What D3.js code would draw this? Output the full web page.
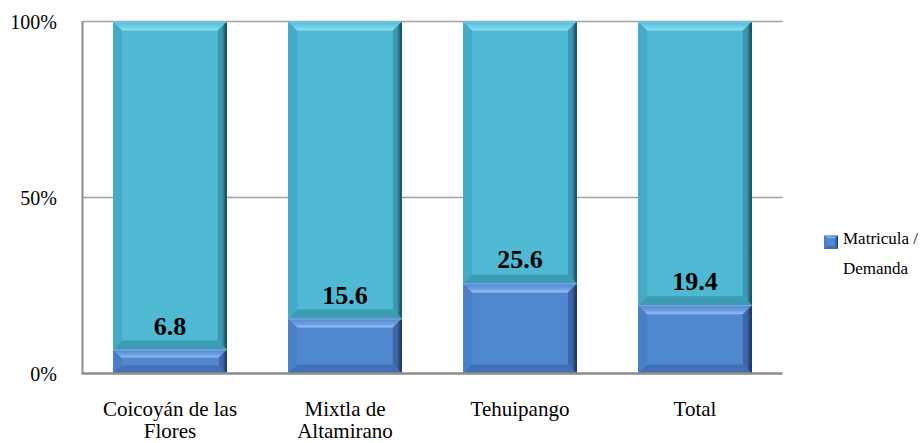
<!DOCTYPE html>
<html>
<head>
<meta charset="utf-8">
<script src="https://cdn.jsdelivr.net/npm/d3@7/dist/d3.min.js"></script>
<style>
  html, body { margin: 0; padding: 0; background: #fff; }
  svg { display: block; }
  svg text { font-family: 'Liberation Serif', 'Times New Roman', Times, 'DejaVu Serif', serif; }
</style>
</head>
<body>
<svg id="chart" width="923" height="443"></svg>
<script>
// Share of demand covered by enrolment, by municipality
const categories = [["Coicoyán de las", "Flores"], ["Mixtla de", "Altamirano"], ["Tehuipango"], ["Total"]];
const matricula = [6.8, 15.6, 25.6, 19.4];
const yTicks = [0, 50, 100];
const legendLines = ["Matricula /", "Demanda"];

const FONT = "'Liberation Serif', 'Times New Roman', Times, serif";
const svg = d3.select("#chart");
const plot = { left: 82.5, right: 782.5, top: 21.5, bottom: 373.5 };

const x = d3.scaleBand()
  .domain(categories.map((c, i) => i))
  .range([plot.left, plot.right])
  .paddingInner(0.35)
  .paddingOuter(0.175);

const y = d3.scaleLinear().domain([0, 100]).range([plot.bottom, plot.top]);

// palettes for the bevelled segments
const cyan = { face: "#4fb9d3", top: "#72cfe6", shine: "#92e2f4", left: "#45aac6", right: "#3b98b2", edge: "#163f4d", bottom: "#3e9bb4" };
const blue = { face: "#5088d0", top: "#6c9de0", shine: "#9cc0f2", left: "#497fc6", right: "#3c68aa", edge: "#182c50", bottom: "#4171b4" };

const defs = svg.append("defs");
function sideGradient(id, p) {
  const g = defs.append("linearGradient").attr("id", id).attr("x1", 0).attr("x2", 1).attr("y1", 0).attr("y2", 0);
  g.append("stop").attr("offset", "0%").attr("stop-color", p.right);
  g.append("stop").attr("offset", "45%").attr("stop-color", p.right);
  g.append("stop").attr("offset", "100%").attr("stop-color", p.edge);
}
function topGradient(id, p) {
  const g = defs.append("linearGradient").attr("id", id).attr("x1", 0).attr("x2", 0).attr("y1", 0).attr("y2", 1);
  g.append("stop").attr("offset", "0%").attr("stop-color", p.face);
  g.append("stop").attr("offset", "60%").attr("stop-color", p.top);
  g.append("stop").attr("offset", "100%").attr("stop-color", p.shine);
}
sideGradient("sideCyan", cyan); sideGradient("sideBlue", blue);
topGradient("topCyan", cyan); topGradient("topBlue", blue);

// gridlines
svg.append("g").selectAll("line")
  .data(yTicks.filter(t => t > 0))
  .join("line")
  .attr("x1", plot.left).attr("x2", plot.right)
  .attr("y1", d => y(d)).attr("y2", d => y(d))
  .attr("stroke", "#a0a0a0").attr("stroke-width", 1.5);

function bevelRect(g, bx, by, w, h, p, key, b) {
  const pts = a => a.map(q => q.join(",")).join(" ");
  g.append("rect").attr("x", bx).attr("y", by).attr("width", w).attr("height", h).attr("fill", p.face);
  g.append("polygon").attr("points", pts([[bx, by + h], [bx + w, by + h], [bx + w - b, by + h - b], [bx + b, by + h - b]])).attr("fill", p.bottom);
  g.append("polygon").attr("points", pts([[bx, by], [bx + b, by + b], [bx + b, by + h - b], [bx, by + h]])).attr("fill", p.left);
  g.append("polygon").attr("points", pts([[bx, by], [bx + w, by], [bx + w - b, by + b], [bx + b, by + b]])).attr("fill", "url(#top" + key + ")");
  g.append("polygon").attr("points", pts([[bx + w, by], [bx + w - b, by + b], [bx + w - b, by + h - b], [bx + w, by + h]])).attr("fill", "url(#side" + key + ")");
  // thin light rim along the top edge
  g.append("line").attr("x1", bx).attr("x2", bx + w).attr("y1", by + 0.5).attr("y2", by + 0.5)
    .attr("stroke", p.shine).attr("stroke-opacity", 0.6).attr("stroke-width", 1);
}

const bars = svg.append("g");
matricula.forEach((v, i) => {
  const bx = x(i), w = x.bandwidth();
  const g = bars.append("g");
  // remainder up to 100%
  bevelRect(g, bx, y(100), w, y(v) - y(100), cyan, "Cyan", 9);
  // enrolment share
  const hb = y(0) - y(v);
  bevelRect(g, bx, y(v), w, hb, blue, "Blue", Math.min(9, hb / 3));
});

// value labels
svg.append("g").selectAll("text")
  .data(matricula)
  .join("text")
  .attr("x", (d, i) => x(i) + x.bandwidth() / 2)
  .attr("y", d => y(d) - 15)
  .attr("text-anchor", "middle").attr("font-family", FONT)
  .attr("font-size", 26).attr("font-weight", "bold").attr("fill", "#000")
  .text(d => d.toFixed(1));

// axes lines
svg.append("line").attr("x1", plot.left).attr("x2", plot.left).attr("y1", plot.top).attr("y2", plot.bottom)
  .attr("stroke", "#8c8c8c").attr("stroke-width", 2);
svg.append("line").attr("x1", plot.left - 1).attr("x2", plot.right).attr("y1", plot.bottom).attr("y2", plot.bottom)
  .attr("stroke", "#8c8c8c").attr("stroke-width", 2.5);

// y tick labels
svg.append("g").selectAll("text")
  .data(yTicks)
  .join("text")
  .attr("x", 57).attr("y", d => y(d) + 7)
  .attr("text-anchor", "end").attr("font-family", FONT).attr("font-size", 20).attr("fill", "#000")
  .text(d => d + "%");

// category labels
const cat = svg.append("g").selectAll("text")
  .data(categories)
  .join("text")
  .attr("text-anchor", "middle").attr("font-family", FONT).attr("font-size", 21).attr("fill", "#000")
  .attr("x", (d, i) => x(i) + x.bandwidth() / 2)
  .attr("y", 416);
cat.selectAll("tspan")
  .data(d => d)
  .join("tspan")
  .attr("x", function () { return d3.select(this.parentNode).attr("x"); })
  .attr("dy", (d, j) => j === 0 ? 0 : 22)
  .text(d => d);

// legend
const lg = svg.append("g");
bevelRect(lg, 824, 235, 14, 14, blue, "Blue", 3);
lg.selectAll("text")
  .data(legendLines)
  .join("text")
  .attr("x", 843).attr("y", (d, i) => 244 + i * 30)
  .attr("font-family", FONT).attr("font-size", 17).attr("fill", "#000")
  .text(d => d);
</script>
</body>
</html>
